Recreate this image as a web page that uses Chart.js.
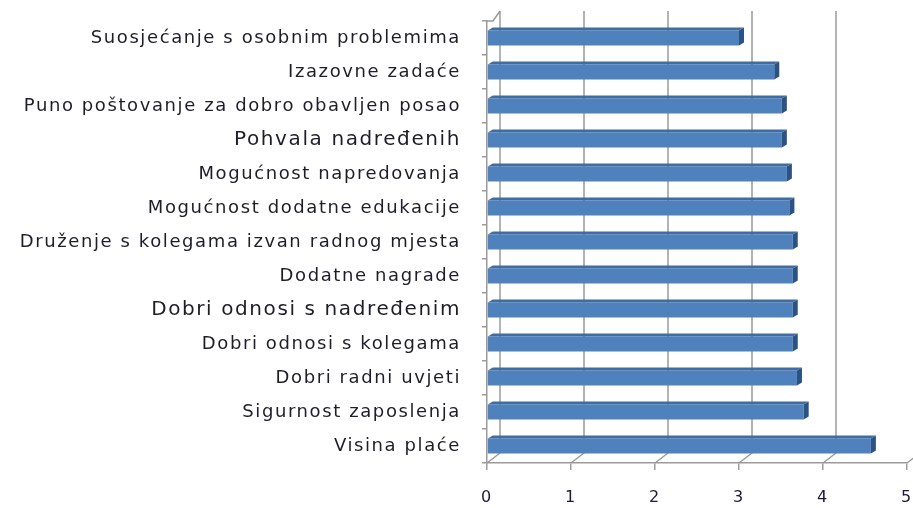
<!DOCTYPE html>
<html>
<head>
<meta charset="utf-8">
<script src="https://cdn.jsdelivr.net/npm/chart.js@4/dist/chart.umd.min.js"></script>
<style>
  html, body { margin: 0; padding: 0; background: #fff; }
  #wrap { width: 913px; height: 508px; }
</style>
</head>
<body>
<div id="wrap"><canvas id="chart"></canvas></div>
<script>
// Kategorije (odozgo prema dolje) i prosječne ocjene
const categories = [
  'Suosjećanje s osobnim problemima',
  'Izazovne zadaće',
  'Puno poštovanje za dobro obavljen posao',
  'Pohvala nadređenih',
  'Mogućnost napredovanja',
  'Mogućnost dodatne edukacije',
  'Druženje s kolegama izvan radnog mjesta',
  'Dodatne nagrade',
  'Dobri odnosi s nadređenim',
  'Dobri odnosi s kolegama',
  'Dobri radni uvjeti',
  'Sigurnost zaposlenja',
  'Visina plaće'
];
const values = [3.0, 3.42, 3.51, 3.51, 3.57, 3.6, 3.64, 3.64, 3.64, 3.64, 3.69, 3.77, 4.57];
const bigLabels = [3, 8]; // ove su oznake u izvorniku veće
const xTicks = [0, 1, 2, 3, 4, 5];

const FACE = '#4f81bd';
const TOP = '#3f6da3';
const SIDE = '#2c5283';
const GRID = '#9b9b9b';
const DEPTH_X = 13, DEPTH_Y = 10; // pomak stražnjeg zida
const BAR_DX = 5, BAR_DY = 3;     // dubina stupca

// stražnji zid, mreža i pod
const wallPlugin = {
  id: 'wall',
  beforeDatasetsDraw(chart) {
    const { ctx, chartArea: a, scales: { x } } = chart;
    ctx.save();
    ctx.strokeStyle = GRID;
    ctx.lineWidth = 1.5;
    ctx.beginPath();
    xTicks.forEach(v => {
      const px = x.getPixelForValue(v);
      ctx.moveTo(px + DEPTH_X, a.top - DEPTH_Y);
      ctx.lineTo(px + DEPTH_X, a.bottom - DEPTH_Y);
      ctx.lineTo(px, a.bottom);
    });
    // lijevi zid
    ctx.moveTo(a.left, a.top);
    ctx.lineTo(a.left + 6, a.top);
    ctx.lineTo(a.left + DEPTH_X, a.top - DEPTH_Y);
    ctx.stroke();
    ctx.restore();
  }
};

// 3D izgled stupaca: gornja ploha i desna strana
const bar3dPlugin = {
  id: 'bar3d',
  afterDatasetsDraw(chart) {
    const ctx = chart.ctx;
    chart.getDatasetMeta(0).data.forEach(el => {
      const { x, y, base, height } = el.getProps(['x', 'y', 'base', 'height'], true);
      const top = y - height / 2, bottom = y + height / 2;
      ctx.save();
      ctx.fillStyle = TOP;
      ctx.beginPath();
      ctx.moveTo(base, top);
      ctx.lineTo(x, top);
      ctx.lineTo(x + BAR_DX, top - BAR_DY);
      ctx.lineTo(base + BAR_DX, top - BAR_DY);
      ctx.closePath();
      ctx.fill();
      ctx.fillStyle = SIDE;
      ctx.beginPath();
      ctx.moveTo(x, top);
      ctx.lineTo(x + BAR_DX, top - BAR_DY);
      ctx.lineTo(x + BAR_DX, bottom - BAR_DY);
      ctx.lineTo(x, bottom);
      ctx.closePath();
      ctx.fill();
      ctx.restore();
    });
  }
};

// razmak slova kao u izvorniku
const spacingPlugin = {
  id: 'spacing',
  beforeDraw(chart) { chart.ctx.letterSpacing = '1.6px'; }
};

const noPad = s => { s.paddingLeft = 0; s.paddingRight = 0; s.paddingTop = 0; s.paddingBottom = 0; };

new Chart(document.getElementById('chart'), {
  type: 'bar',
  data: {
    labels: categories,
    datasets: [{
      data: values,
      backgroundColor: FACE,
      borderWidth: 0,
      barPercentage: 0.5,
      categoryPercentage: 0.88
    }]
  },
  plugins: [spacingPlugin, wallPlugin, bar3dPlugin],
  options: {
    indexAxis: 'y',
    responsive: true,
    maintainAspectRatio: false,
    animation: false,
    layout: { padding: { top: 21, right: 6, left: 0, bottom: 0 } },
    plugins: {
      legend: { display: false },
      tooltip: { enabled: false }
    },
    scales: {
      x: {
        min: 0,
        max: 5,
        afterFit: s => { s.height = 45; noPad(s); },
        afterBuildTicks: s => { s.ticks = xTicks.map(v => ({ value: v })); },
        grid: { drawOnChartArea: false, drawTicks: true, tickLength: 7, color: GRID, lineWidth: 1.5 },
        border: { display: true, color: GRID, width: 1.5 },
        ticks: {
          padding: 18,
          color: '#1b1b3a',
          font: { family: 'DejaVu Sans', size: 16 }
        }
      },
      y: {
        afterFit: s => { s.width = 487; noPad(s); },
        grid: { drawOnChartArea: false, drawTicks: true, tickLength: 5, color: GRID, lineWidth: 1.5 },
        border: { display: true, color: GRID, width: 1.5 },
        ticks: {
          autoSkip: false,
          padding: 21,
          color: '#1e1e2a',
          font: c => ({ family: 'DejaVu Sans', size: bigLabels.includes(c.index) ? 20 : 18 })
        }
      }
    }
  }
});
</script>
</body>
</html>
